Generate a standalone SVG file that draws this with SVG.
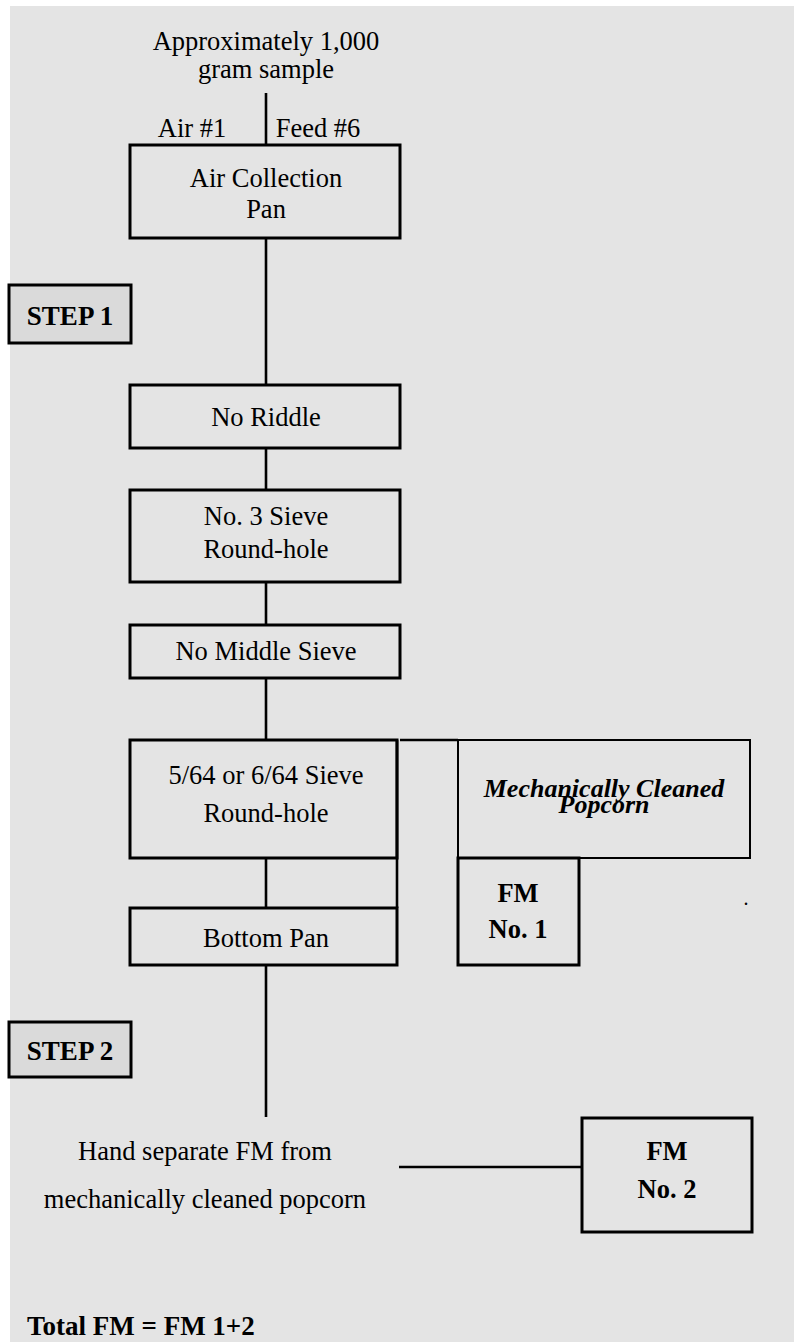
<svg xmlns="http://www.w3.org/2000/svg" width="799" height="1344" viewBox="0 0 799 1344">
<style>
.box{fill:none;stroke:#000;stroke-width:3}
.step{fill:#dadada;stroke:#000;stroke-width:3}
.ln{stroke:#000;stroke-width:2.6;fill:none}
text{font-family:'Liberation Serif','Times New Roman',serif;font-size:26.5px;fill:#000;text-anchor:middle}
.b{font-weight:bold}
.bi{font-weight:bold;font-style:italic;font-size:26px}
.s{font-size:27px;font-weight:bold}
</style>
<rect x="0" y="0" width="799" height="1344" fill="#fff"/>
<rect x="10" y="6" width="784" height="1336" fill="#e4e4e4"/>
<g id="connectors">
<line class="ln" x1="266" y1="93" x2="266" y2="145"/>
<line class="ln" x1="266" y1="238" x2="266" y2="385"/>
<line class="ln" x1="266" y1="448" x2="266" y2="490"/>
<line class="ln" x1="266" y1="582" x2="266" y2="625"/>
<line class="ln" x1="266" y1="678" x2="266" y2="740"/>
<line class="ln" x1="400" y1="740" x2="458" y2="740"/>
<line class="ln" x1="397" y1="740" x2="397" y2="908"/>
<line class="ln" x1="266" y1="858" x2="266" y2="908"/>
<line class="ln" x1="266" y1="965" x2="266" y2="1117"/>
<line class="ln" x1="399" y1="1167" x2="582" y2="1167"/>
</g>
<g id="sample">
<text x="266" y="50">Approximately 1,000</text>
<text x="266" y="78">gram sample</text>
<text x="192" y="137">Air #1</text>
<text x="318" y="137">Feed #6</text>
</g>
<g id="air-collection">
<rect class="box" x="130" y="145" width="270" height="93"/>
<text x="266" y="187">Air Collection</text>
<text x="266" y="218">Pan</text>
</g>
<g id="step1">
<rect class="step" x="9" y="285" width="122" height="58"/>
<text class="s" x="70" y="325">STEP 1</text>
</g>
<g id="no-riddle">
<rect class="box" x="130" y="385" width="270" height="63"/>
<text x="266" y="426">No Riddle</text>
</g>
<g id="no3-sieve">
<rect class="box" x="130" y="490" width="270" height="92"/>
<text x="266" y="525">No. 3 Sieve</text>
<text x="266" y="558">Round-hole</text>
</g>
<g id="no-middle">
<rect class="box" x="130" y="625" width="270" height="53"/>
<text x="266" y="660">No Middle Sieve</text>
</g>
<g id="sieve-564">
<rect class="box" x="130" y="740" width="267" height="118"/>
<text x="266" y="784">5/64 or 6/64 Sieve</text>
<text x="266" y="822">Round-hole</text>
</g>
<g id="mech-cleaned">
<rect x="458" y="740" width="292" height="118" fill="none" stroke="#000" stroke-width="2"/>
<text class="bi" x="604" y="797">Mechanically Cleaned</text>
<text class="bi" x="604" y="813">Popcorn</text>
</g>
<g id="fm1">
<rect class="box" x="458" y="858" width="121" height="107"/>
<text class="b" x="518" y="902">FM</text>
<text class="b" x="518" y="938">No. 1</text>
</g>
<g id="bottom-pan">
<rect class="box" x="130" y="908" width="267" height="57"/>
<text x="266" y="947">Bottom Pan</text>
</g>
<text x="746" y="905" style="font-size:20px">.</text>
<g id="step2">
<rect class="step" x="9" y="1022" width="122" height="55"/>
<text class="s" x="70" y="1060">STEP 2</text>
</g>
<g id="hand-separate">
<text x="205" y="1160">Hand separate FM from</text>
<text x="205" y="1208">mechanically cleaned popcorn</text>
</g>
<g id="fm2">
<rect class="box" x="582" y="1118" width="170" height="114"/>
<text class="b" x="667" y="1160">FM</text>
<text class="b" x="667" y="1198">No. 2</text>
</g>
<g id="total">
<text class="s" x="27" y="1335" style="text-anchor:start">Total FM = FM 1+2</text>
</g>
</svg>
